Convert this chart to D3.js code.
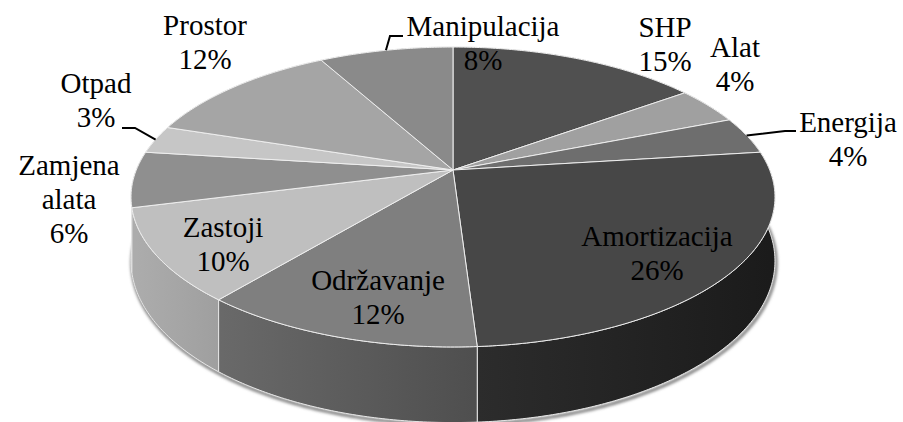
<!DOCTYPE html>
<html>
<head>
<meta charset="utf-8">
<script src="https://cdn.jsdelivr.net/npm/d3@7"></script>
</head>
<body style="margin:0">
<script>
// Data (clockwise from 12 o'clock)
var categories = ["SHP", "Alat", "Energija", "Amortizacija", "Održavanje",
                  "Zastoji", "Zamjena alata", "Otpad", "Prostor", "Manipulacija"];
var values = [15, 4, 4, 26, 12, 10, 6, 3, 12, 8];
var percentLabels = ["15%", "4%", "4%", "26%", "12%", "10%", "6%", "3%", "12%", "8%"];

// Style: top face grays for each slice
var sliceColors = ["#505050", "#a0a0a0", "#6e6e6e", "#474747", "#7f7f7f",
                   "#bfbfbf", "#8f8f8f", "#c6c6c6", "#a5a5a5", "#8a8a8a"];

// Step 1: canvas
// ==============================================================================
var svgWidth = 903;
var svgHeight = 422;

var svg = d3.select("body")
  .append("svg")
  .attr("width", svgWidth)
  .attr("height", svgHeight);

// Step 2: perspective projection of the 3D pie
// ==============================================================================
var cx = 453, cy = 170;      // projected pie centre
var rx = 316.7, ry = 145.1;  // half axes of the disc
var persp = 0.18;            // far side shrink
var depth = 62;              // thickness of the pie

function project(theta, r, z) {
  var u = r * Math.sin(theta);
  var w = r * Math.cos(theta);
  var s = 1 / (1 + persp * w);
  return [cx + rx * u * s, cy - ry * w * s + z * depth * s];
}

function arcPoints(a0, a1, z) {
  var n = Math.max(2, Math.ceil((a1 - a0) / 0.01));
  var pts = [];
  for (var i = 0; i <= n; i++) {
    pts.push(project(a0 + (a1 - a0) * i / n, 1, z));
  }
  return pts;
}

var line = d3.line();

var pie = d3.pie().sort(null).value(d => d);
var arcs = pie(values).map(function(a, i) {
  a.name = categories[i];
  a.pct = percentLabels[i];
  a.color = sliceColors[i];
  a.mid = (a.startAngle + a.endAngle) / 2;
  return a;
});

// Step 3: side walls with gradient shading
// ==============================================================================
var defs = svg.append("defs");

arcs.forEach(function(a, i) {
  var c = d3.rgb(a.color);
  var g = defs.append("linearGradient")
    .attr("id", "side" + i)
    .attr("gradientUnits", "userSpaceOnUse")
    .attr("x1", cx - rx).attr("x2", cx + rx)
    .attr("y1", 0).attr("y2", 0);
  [[0, 0.9], [1, 0.38]].forEach(function(st) {
    g.append("stop")
      .attr("offset", st[0])
      .attr("stop-color", d3.rgb(c.r * st[1], c.g * st[1], c.b * st[1]));
  });
});

// soft shadow under the pie: a blurred copy of the bottom rim
var blur = defs.append("filter").attr("id", "blur");
blur.append("feGaussianBlur").attr("stdDeviation", 1.8);

var rim = arcPoints(Math.PI / 2 - 0.05, 3 * Math.PI / 2 + 0.05, 1).map(p => [p[0] + 1, p[1] + 2]);
svg.append("path")
  .attr("d", line(rim))
  .attr("fill", "none")
  .attr("stroke", "#777")
  .attr("stroke-width", 3)
  .attr("filter", "url(#blur)");

var wallOrder = arcs.slice().sort((a, b) => Math.cos(b.mid) - Math.cos(a.mid));

svg.append("g")
  .selectAll("path")
  .data(wallOrder)
  .enter()
  .append("path")
  .attr("d", function(a) {
    var top = arcPoints(a.startAngle, a.endAngle, 0);
    var bottom = arcPoints(a.startAngle, a.endAngle, 1).reverse();
    return line(top.concat(bottom)) + "Z";
  })
  .attr("fill", a => "url(#side" + a.index + ")")
  .attr("stroke", "#e6e6e6")
  .attr("stroke-width", 1);

// Step 4: top faces
// ==============================================================================
svg.append("g")
  .selectAll("path")
  .data(arcs)
  .enter()
  .append("path")
  .attr("d", function(a) {
    var pts = [[cx, cy]].concat(arcPoints(a.startAngle, a.endAngle, 0));
    return line(pts) + "Z";
  })
  .attr("fill", a => a.color)
  .attr("stroke", "#eeeeee")
  .attr("stroke-width", 1)
  .attr("stroke-linejoin", "round");

// Step 5: data labels (centre x, first baseline) and leader lines
// ==============================================================================
var lineGap = 34;
var labelAnchors = {
  "SHP": [665, 37],
  "Alat": [735, 57],
  "Energija": [848, 132],
  "Amortizacija": [657, 246],
  "Održavanje": [378, 290],
  "Zastoji": [223, 237],
  "Zamjena alata": [69, 175],
  "Otpad": [96, 93],
  "Prostor": [205, 35],
  "Manipulacija": [483, 36]
};

// leader elbows given relative to the label anchor
var leaders = {
  "Manipulacija": [[-93, 0], [-80, 0]],
  "Otpad": [[39, 35], [26, 35]],
  "Energija": [[-63, -1], [-52, -1]]
};

Object.keys(leaders).forEach(function(name) {
  var a = arcs.find(d => d.name === name);
  var anc = labelAnchors[name];
  var edge = project(a.mid, 1, 0);
  var pts = [edge].concat(leaders[name].map(p => [anc[0] + p[0], anc[1] + p[1]]));
  svg.append("path")
    .attr("d", line(pts))
    .attr("fill", "none")
    .attr("stroke", "#000")
    .attr("stroke-width", 2);
});

// one text element per label line
var labelLines = [];
arcs.forEach(function(a) {
  var anc = labelAnchors[a.name];
  a.name.split(" ").concat([a.pct]).forEach(function(s, j) {
    labelLines.push({ text: s, x: anc[0], y: anc[1] + j * lineGap });
  });
});

labelLines.forEach(function(d) {
  svg.append("text")
    .attr("x", d.x)
    .attr("y", d.y)
    .attr("text-anchor", "middle")
    .style("font-family", "'Times New Roman', 'Liberation Serif', Tinos, serif")
    .style("font-size", "29px")
    .style("fill", "#000")
    .text(d.text);
});
</script>
</body>
</html>
